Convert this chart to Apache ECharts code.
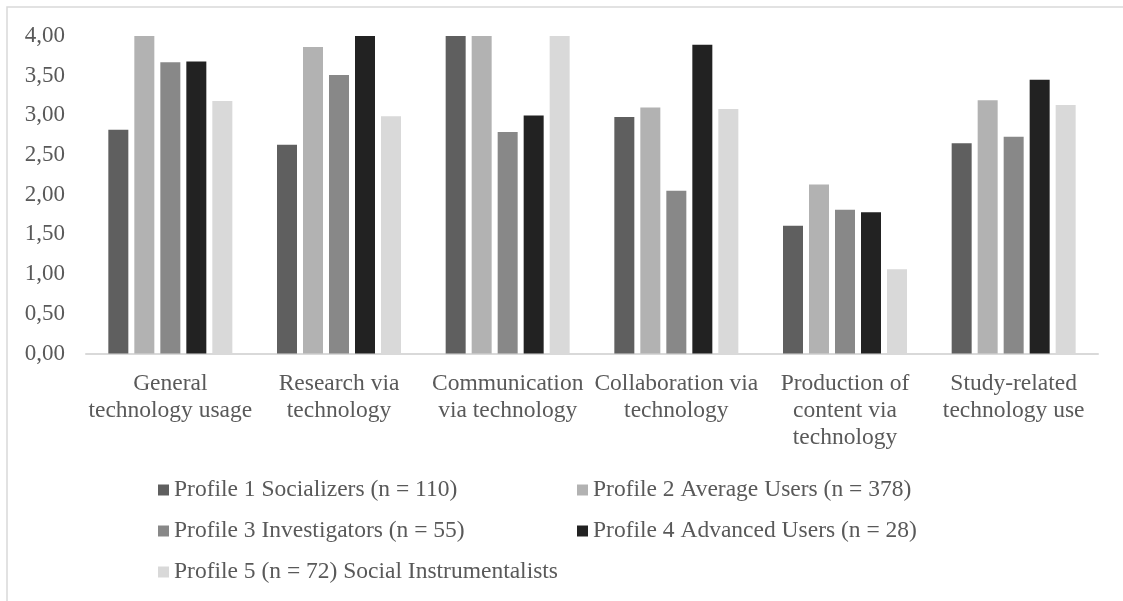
<!DOCTYPE html>
<html>
<head>
<meta charset="utf-8">
<script src="https://cdn.jsdelivr.net/npm/echarts@6/dist/echarts.min.js"></script>
<style>
  html, body { margin: 0; padding: 0; background: #fff; }
  #chart { width: 1123px; height: 601px; }
</style>
</head>
<body>
<div id="chart"></div>
<script>
// categories on the x axis
var categories = [
  'General\ntechnology usage',
  'Research via\ntechnology',
  'Communication\nvia technology',
  'Collaboration via\ntechnology',
  'Production of\ncontent via\ntechnology',
  'Study-related\ntechnology use'
];

var seriesNames = [
  'Profile 1 Socializers (n = 110)',
  'Profile 2 Average Users (n = 378)',
  'Profile 3 Investigators (n = 55)',
  'Profile 4 Advanced Users (n = 28)',
  'Profile 5 (n = 72) Social Instrumentalists'
];

// values
var profile1 = [2.82, 2.63, 4.00, 2.98, 1.61, 2.65];
var profile2 = [4.00, 3.86, 4.00, 3.10, 2.13, 3.19];
var profile3 = [3.67, 3.51, 2.79, 2.05, 1.81, 2.73];
var profile4 = [3.68, 4.00, 3.00, 3.89, 1.78, 3.45];
var profile5 = [3.18, 2.99, 4.00, 3.08, 1.06, 3.13];

var colors = ['#5f5f5f', '#b2b2b2', '#888888', '#222222', '#d9d9d9'];
var values = [profile1, profile2, profile3, profile4, profile5];

var font = '"Liberation Serif", "DejaVu Serif", serif';
var chart = echarts.init(document.getElementById('chart'));

var series = seriesNames.map(function (name, i) {
  return {
    name: name,
    type: 'bar',
    data: values[i],
    barWidth: 20,
    barGap: '30%',
    itemStyle: { color: colors[i] }
  };
});

var legendStyle = {
  orient: 'vertical',
  icon: 'rect',
  itemWidth: 11,
  itemHeight: 11,
  itemGap: 17,
  textStyle: { fontFamily: font, fontSize: 23.5, color: '#595959', lineHeight: 23 },
  selectedMode: false
};

chart.setOption({
  animation: false,
  color: colors,
  graphic: [{
    type: 'rect',
    shape: { x: 7, y: 7, width: 1130, height: 610 },
    style: { fill: 'none', stroke: '#d9d9d9', lineWidth: 1.5 },
    silent: true
  }],
  grid: { left: 86, right: 25, top: 36, bottom: 247.5 },
  legend: [
    Object.assign({ left: 153, top: 473, data: [seriesNames[0], seriesNames[2], seriesNames[4]] }, legendStyle),
    Object.assign({ left: 572, top: 473, data: [seriesNames[1], seriesNames[3]] }, legendStyle)
  ],
  xAxis: {
    type: 'category',
    data: categories,
    axisLine: { lineStyle: { color: '#d9d9d9', width: 2 } },
    axisTick: { show: false },
    axisLabel: {
      interval: 0,
      margin: 17,
      fontFamily: font,
      fontSize: 23.5,
      lineHeight: 27,
      color: '#595959'
    }
  },
  yAxis: {
    type: 'value',
    min: 0,
    max: 4,
    interval: 0.5,
    splitLine: { show: false },
    axisLine: { show: false },
    axisTick: { show: false },
    axisLabel: {
      margin: 21,
      fontFamily: font,
      fontSize: 23,
      color: '#595959',
      formatter: function (v) { return v.toFixed(2).replace('.', ','); }
    }
  },
  series: series
});
</script>
</body>
</html>
